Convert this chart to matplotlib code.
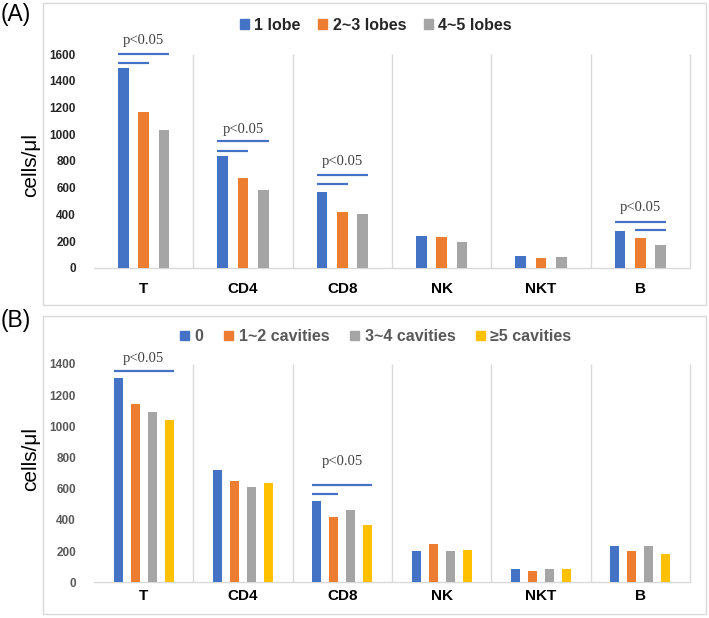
import numpy as np
import matplotlib
matplotlib.use("Agg")
import matplotlib.pyplot as plt
import matplotlib.patches as mpatches

plt.rcParams['font.family'] = ['Liberation Sans', 'DejaVu Sans']

categories = ["T", "CD4", "CD8", "NK", "NKT", "B"]

# panel A: number of involved lobes
lobe_labels = ["1 lobe", "2~3 lobes", "4~5 lobes"]
lobe_1 = [1497, 840, 570, 241, 91, 274]
lobe_2_3 = [1164, 670, 417, 231, 72, 220]
lobe_4_5 = [1032, 579, 405, 194, 77, 172]

# panel B: number of cavities
cavity_labels = ["0", "1~2 cavities", "3~4 cavities", "≥5 cavities"]
cav_0 = [1312, 720, 521, 199, 88, 231]
cav_1_2 = [1143, 652, 419, 248, 73, 203]
cav_3_4 = [1090, 609, 462, 203, 88, 233]
cav_5 = [1039, 635, 368, 207, 88, 184]

# significance brackets: (category, first bar, last bar, y)
sig_lines_a = [("T", 0, 1, 1532), ("T", 0, 2, 1602),
               ("CD4", 0, 1, 878), ("CD4", 0, 2, 947),
               ("CD8", 0, 1, 628), ("CD8", 0, 2, 692),
               ("B", 1, 2, 282), ("B", 0, 2, 345)]
sig_text_a = [("T", 1700), ("CD4", 1035), ("CD8", 795), ("B", 455)]
sig_lines_b = [("T", 0, 3, 1355), ("CD8", 0, 1, 566), ("CD8", 0, 3, 622)]
sig_text_b = [("T", 1436), ("CD8", 774)]

colors = ["#4472C4", "#ED7D31", "#A5A5A5", "#FFC000"]
grid_col = "#D9D9D9"
W, H = 709, 618


def fig_rect(x0, y0, x1, y1):
    # pixel box (top-left origin) -> figure fraction rect
    return [x0 / W, 1 - y1 / H, (x1 - x0) / W, (y1 - y0) / H]


def draw_panel(fig, rect, series, labels, ymax, step, width, spacing,
               sig_lines, sig_text, tick_col, xpad, leg_y, leg_col, colsp):
    ax = fig.add_axes(rect)
    x = np.arange(len(categories))
    n = len(series)
    offs = (np.arange(n) - (n - 1) / 2) * spacing
    for i, vals in enumerate(series):
        ax.bar(x + offs[i], vals, width, color=colors[i], label=labels[i], zorder=3)
    ax.vlines(np.arange(0.5, len(categories)), 0, ymax, color=grid_col, lw=1,
              clip_on=False, zorder=1)
    ax.set_xlim(-0.5, len(categories) - 0.5)
    ax.set_ylim(0, ymax)
    yt = np.arange(0, ymax + 1, step)
    ax.set_yticks(yt, labels=[str(v) for v in yt], fontsize=8.5,
                  fontweight='bold', color=tick_col)
    ax.set_xticks(x, labels=categories, fontsize=11, fontweight='bold',
                  color='black')
    ax.tick_params(axis='y', length=0, pad=13)
    ax.tick_params(axis='x', length=0, pad=xpad)
    for s in ['top', 'right', 'left']:
        ax.spines[s].set_visible(False)
    ax.spines['bottom'].set_color(grid_col)
    ax.spines['bottom'].set_linewidth(1)

    centers = {}
    for cat, a, b, y in sig_lines:
        ci = categories.index(cat)
        x0 = ci + offs[a] - width / 2
        x1 = ci + offs[b] + width / 2
        ax.plot([x0, x1], [y, y], color="#4472C4", lw=1.6, clip_on=False,
                solid_capstyle='butt', zorder=4)
        if b == n - 1 or (cat not in centers):
            centers[cat] = (x0 + x1) / 2
    for cat, y in sig_text:
        ax.text(centers[cat], y, "p<0.05", ha='center', va='center',
                fontsize=10.5, family=['Liberation Serif'], color="#404040",
                clip_on=False)

    handles = [mpatches.Patch(color=colors[i], label=labels[i]) for i in range(n)]
    fig.legend(handles=handles, loc='center', ncol=n, frameon=False,
               bbox_to_anchor=(376 / W, 1 - leg_y / H),
               prop={'weight': 'bold', 'size': 11.5},
               labelcolor=leg_col, handlelength=0.55, handleheight=0.55,
               handletextpad=0.35, columnspacing=colsp, borderaxespad=0)
    return ax


fig = plt.figure(figsize=(W / 100, H / 100), dpi=100)

# outer boxes
for (x0, y0, x1, y1) in [(43, 3, 706, 305), (43, 316, 706, 614)]:
    r = fig_rect(x0, y0, x1, y1)
    fig.patches.append(mpatches.Rectangle((r[0], r[1]), r[2], r[3], fill=False,
                                          edgecolor=grid_col, lw=1,
                                          transform=fig.transFigure))

draw_panel(fig, fig_rect(94, 54.3, 690, 267.7), [lobe_1, lobe_2_3, lobe_4_5],
           lobe_labels, 1600, 200, 0.106, 0.204, sig_lines_a, sig_text_a,
           "#262626", 10, 25, "#262626", 1.1)
draw_panel(fig, fig_rect(94, 364, 690, 582.3), [cav_0, cav_1_2, cav_3_4, cav_5],
           cavity_labels, 1400, 200, 0.088, 0.171, sig_lines_b, sig_text_b,
           "#595959", 4.5, 336.5, "#595959", 1.3)

fig.text(0.5 / W, 1 - 15 / H, "(A)", fontsize=16.5, ha='left', va='center')
fig.text(0.5 / W, 1 - 320 / H, "(B)", fontsize=16.5, ha='left', va='center')
fig.text(31 / W, 1 - 165 / H, "cells/μl", fontsize=15, rotation=90,
         ha='center', va='center')
fig.text(31 / W, 1 - 459 / H, "cells/μl", fontsize=15, rotation=90,
         ha='center', va='center')

fig.savefig("out.png", dpi=100)
